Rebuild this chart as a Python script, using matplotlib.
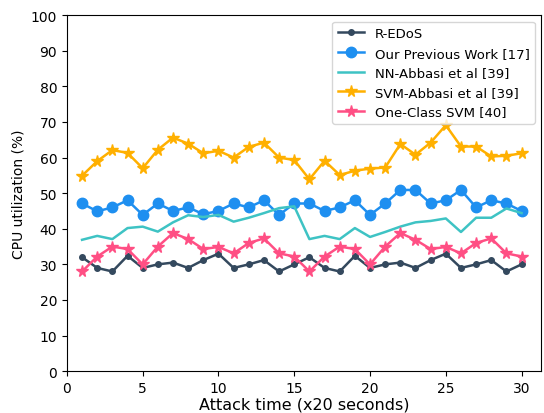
import numpy as np
import matplotlib
matplotlib.use("Agg")
import matplotlib.pyplot as plt

# Data
t = list(range(1, 31))
redos = [32, 29, 28, 32.4, 29, 30, 30.5, 29, 31.2, 33, 29, 30, 31.2, 28, 30,
         32, 29, 28, 32.4, 29, 30, 30.5, 29, 31.2, 33, 29, 30, 31.2, 28, 30]
prev_work = [47.1, 44.9, 46, 48, 43.9, 47.1, 45, 46, 44.1, 45, 47.1, 46, 48, 43.9, 47.1,
             47.1, 45, 46, 48, 43.9, 47.1, 50.9, 50.9, 47.1, 48, 50.9, 46, 48, 47.1, 45]
nn_abbasi = [36.9, 38, 37.1, 40.2, 40.6, 39.2, 41.8, 43.8, 43.3, 43.9, 42, 43.1, 44.4, 45.8, 46.3,
             37.1, 38, 37.1, 40.2, 37.7, 39.1, 40.6, 41.8, 42.2, 42.9, 39.1, 43.1, 43.1, 45.7, 44.4]
svm_abbasi = [54.9, 59, 62.1, 61.3, 57, 62.2, 65.6, 63.9, 61.2, 61.9, 60, 63, 64.2, 60, 59.3,
              53.9, 59.1, 55.1, 56.3, 56.9, 57.2, 63.8, 60.8, 64.2, 69.1, 63.1, 63.1, 60.3, 60.5, 61.2]
oc_svm = [28, 32.2, 35, 34.3, 30, 35, 38.8, 37.1, 34.3, 34.9, 33.1, 36, 37.3, 33.1, 32.2,
          28, 32.2, 35, 34.3, 30, 35, 38.8, 36.9, 34.3, 34.9, 33.1, 36, 37.3, 33.1, 32.2]

fig = plt.figure(figsize=(5.44, 4.14), dpi=100)
ax = fig.add_axes([0.123, 0.101, 0.872, 0.860])

ax.plot(t, redos, marker="o", markersize=4, linewidth=1.8, color="#34495e", label="R-EDoS")
ax.plot(t, prev_work, marker="o", markersize=7.5, linewidth=1.8, color="#1e8ff0", label="Our Previous Work [17]")
ax.plot(t, nn_abbasi, linewidth=1.8, color="#3ec3c4", label="NN-Abbasi et al [39]")
ax.plot(t, svm_abbasi, marker="*", markersize=8.5, linewidth=1.8, color="#ffb000", label="SVM-Abbasi et al [39]")
ax.plot(t, oc_svm, marker="*", markersize=8.5, linewidth=1.8, color="#ff4f84", label="One-Class SVM [40]")

ax.set_xlim(0, 31.3)
ax.set_ylim(0, 100)
ax.set_xticks([0, 5, 10, 15, 20, 25, 30])
ax.set_yticks(range(0, 101, 10))
ax.tick_params(labelsize=10)
ax.set_xlabel("Attack time (x20 seconds)", fontsize=11.5, labelpad=1)
ax.set_ylabel("CPU utilization (%)", fontsize=10)
ax.legend(loc="upper right", fontsize=9.5)

fig.savefig("out.png", dpi=100)
